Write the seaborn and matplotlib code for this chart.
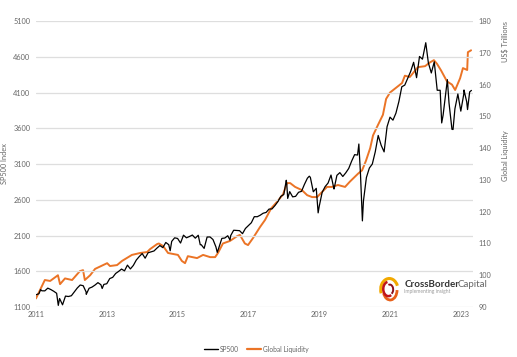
import numpy as np
import pandas as pd
import matplotlib
matplotlib.use("Agg")
import matplotlib.pyplot as plt
from matplotlib.patches import Arc
import seaborn as sns

# --- SP500 monthly closes (left axis) ---
sp_years = list(range(2011, 2024))
sp_monthly = [
    [1286, 1327, 1326, 1364, 1345, 1321, 1292, 1219, 1131, 1253, 1247, 1258],
    [1312, 1366, 1408, 1398, 1310, 1362, 1379, 1407, 1441, 1412, 1416, 1426],
    [1498, 1515, 1569, 1598, 1631, 1606, 1686, 1633, 1682, 1757, 1806, 1848],
    [1783, 1859, 1872, 1884, 1924, 1960, 1931, 2003, 1972, 2018, 2068, 2059],
    [1995, 2105, 2068, 2086, 2107, 2063, 2104, 1972, 1920, 2079, 2080, 2044],
    [1940, 1932, 2060, 2065, 2097, 2099, 2174, 2171, 2168, 2126, 2199, 2239],
    [2279, 2364, 2363, 2384, 2412, 2423, 2470, 2472, 2519, 2575, 2648, 2674],
    [2824, 2714, 2641, 2648, 2705, 2718, 2816, 2902, 2914, 2712, 2760, 2507],
    [2704, 2784, 2834, 2946, 2752, 2942, 2980, 2926, 2977, 3038, 3141, 3231],
    [3226, 2954, 2585, 2912, 3044, 3100, 3271, 3500, 3363, 3270, 3622, 3756],
    [3714, 3811, 3973, 4181, 4204, 4298, 4395, 4523, 4308, 4605, 4567, 4766],
    [4516, 4374, 4530, 4132, 4132, 3785, 4130, 3955, 3586, 3872, 4080, 3840],
    [4077, 3970, 4109],
]
# weekly extremes
sp_extra_x = [2011.0, 2011.13, 2011.63, 2011.75, 2012.42, 2012.87, 2014.79, 2015.64,
              2015.73, 2016.12, 2016.48, 2018.07, 2018.11, 2018.72, 2018.97, 2019.42,
              2020.12, 2020.22, 2022.01, 2022.46, 2022.62, 2022.78, 2023.09, 2023.19,
              2023.30]
sp_extra_y = [1271, 1343, 1123, 1131, 1278, 1359, 1887, 1971,
              1931, 1864, 2037, 2873, 2619, 2930, 2417, 2752,
              3380, 2305, 4797, 3675, 4280, 3583, 4136, 3862,
              4130]

# --- Global Liquidity (right axis, US$ trillions) ---
liq_x = [2011.00, 2011.25, 2011.40, 2011.62, 2011.68, 2011.82, 2012.02, 2012.24, 2012.33,
         2012.38, 2012.53, 2012.67, 2013.01, 2013.09, 2013.29, 2013.43, 2013.71, 2013.94,
         2014.14, 2014.22, 2014.42, 2014.47, 2014.59, 2014.73, 2015.01, 2015.12, 2015.21,
         2015.29, 2015.55, 2015.72, 2015.92, 2016.06, 2016.14, 2016.28, 2016.48, 2016.68,
         2016.76, 2016.90, 2016.99, 2017.13, 2017.33, 2017.47, 2017.64, 2017.84, 2017.98,
         2018.09, 2018.18, 2018.32, 2018.51, 2018.66, 2018.80, 2018.94, 2019.08, 2019.22,
         2019.36, 2019.53, 2019.73, 2019.87, 2020.10, 2020.21, 2020.32, 2020.44, 2020.52,
         2020.66, 2020.80, 2020.89, 2021.00, 2021.17, 2021.34, 2021.42, 2021.56, 2021.79,
         2021.99, 2022.13, 2022.24, 2022.33, 2022.44, 2022.61, 2022.75, 2022.84, 2022.98,
         2023.06, 2023.18, 2023.20, 2023.29]
liq_y = [92.7, 98.5, 98.2, 100.0, 97.2, 99.0, 98.5, 101.3, 101.6,
         98.5, 100.0, 102.0, 103.8, 102.9, 103.2, 104.5, 106.4, 107.0,
         107.3, 108.2, 109.8, 110.0, 109.2, 107.0, 106.4, 104.5, 103.8,
         106.0, 105.4, 106.4, 105.7, 105.7, 107.0, 110.0, 110.8, 112.3,
         112.7, 110.0, 109.5, 111.7, 115.2, 117.4, 121.0, 123.5, 125.5,
         129.0, 129.0, 127.8, 126.8, 125.2, 124.6, 124.6, 126.2, 127.8,
         127.8, 128.4, 127.8, 129.5, 132.0, 133.0, 136.0, 140.0, 144.0,
         147.3, 150.5, 155.5, 157.5, 159.0, 160.5, 162.8, 162.4, 165.5,
         165.8, 167.0, 167.7, 166.5, 164.5, 161.0, 160.0, 158.3, 162.0,
         165.2, 164.6, 170.2, 170.8]

x_ticks = [2011, 2013, 2015, 2017, 2019, 2021, 2023]
left_ticks = [1100, 1600, 2100, 2600, 3100, 3600, 4100, 4600, 5100]
right_ticks = [90, 100, 110, 120, 130, 140, 150, 160, 170, 180]

# build tables
rows = []
for yr, vals in zip(sp_years, sp_monthly):
    for m, v in enumerate(vals):
        rows.append((yr + (m + 1) / 12, v))
rows += list(zip(sp_extra_x, sp_extra_y))
sp = pd.DataFrame(rows, columns=["t", "SP500"]).sort_values("t")
liq = pd.DataFrame({"t": liq_x, "Global Liquidity": liq_y})

sns.set_style("white")
plt.rcParams["font.family"] = ["Lato", "DejaVu Sans"]

orange = "#EB7426"

fig = plt.figure(figsize=(5.17, 3.57), dpi=100)
ax = fig.add_axes([0.0696, 0.14, 0.845, 0.801])
ax2 = ax.twinx()

sns.lineplot(data=sp, x="t", y="SP500", ax=ax, color="black", lw=0.9, zorder=3)
sns.lineplot(data=liq, x="t", y="Global Liquidity", ax=ax2, color=orange, lw=1.4)
ax.set_zorder(ax2.get_zorder() + 1)
ax.patch.set_visible(False)

ax.set_xlim(2011, 2023.34)
ax.set_ylim(1100, 5100)
ax2.set_ylim(90, 180)
ax.set_xticks(x_ticks)
ax.set_yticks(left_ticks)
ax2.set_yticks(right_ticks)
ax.yaxis.grid(True, color="#dedede", lw=0.9)
ax.set_axisbelow(True)
for a in (ax, ax2):
    for s in a.spines.values():
        s.set_visible(False)
    a.tick_params(length=0, labelsize=5.3, colors="#666666", pad=4)
ax.tick_params(axis="x", pad=3)
ax.set_xlabel("")
ax.set_ylabel("SP500 Index", fontsize=5.3, color="#666666", labelpad=4)
ax2.set_ylabel("")

fig.text(0.977, 0.885, "US$ Trillions", rotation=90, fontsize=5.3, color="#666666",
         ha="center", va="center")
fig.text(0.977, 0.565, "Global Liquidity", rotation=90, fontsize=5.3, color="#666666",
         ha="center", va="center")

# legend
h1 = plt.Line2D([], [], color="black", lw=1.0)
h2 = plt.Line2D([], [], color=orange, lw=1.6)
fig.legend([h1, h2], ["SP500", "Global Liquidity"], loc="center", ncol=2,
           bbox_to_anchor=(0.495, 0.022), frameon=False, fontsize=4.8,
           handlelength=2.2, handletextpad=0.2, columnspacing=1.2,
           labelcolor="#666666")

# logo
lax = fig.add_axes([0.733, 0.152, 0.04, 0.074])
lax.set_xlim(-1.2, 1.2)
lax.set_ylim(-1.2, 1.2)
lax.axis("off")
lax.add_patch(Arc((0, 0), 2.0, 2.0, theta1=20, theta2=200, color="#F2A900", lw=2.2))
lax.add_patch(Arc((0.1, -0.05), 1.6, 1.8, theta1=200, theta2=360, color="#E8611A", lw=2.0))
lax.add_patch(Arc((-0.1, 0.05), 1.2, 1.3, theta1=100, theta2=300, color="#C0141B", lw=1.8))
lax.add_patch(Arc((0.05, 0), 0.8, 0.9, theta1=300, theta2=470, color="#8B0F1A", lw=1.4))

t1 = fig.text(0.782, 0.196, "CrossBorder", fontsize=7, color="#333333",
              fontweight="bold", ha="left", va="baseline")
ax.annotate("Capital", xy=(1, 0), xycoords=t1, xytext=(-1.2, 0),
            textcoords="offset points", fontsize=7, color="#666666",
            ha="left", va="bottom")
fig.text(0.782, 0.178, "Implementing insight", fontsize=3.6, color="#9a9a9a",
         ha="left", va="baseline")

fig.savefig("out.png", dpi=100)
